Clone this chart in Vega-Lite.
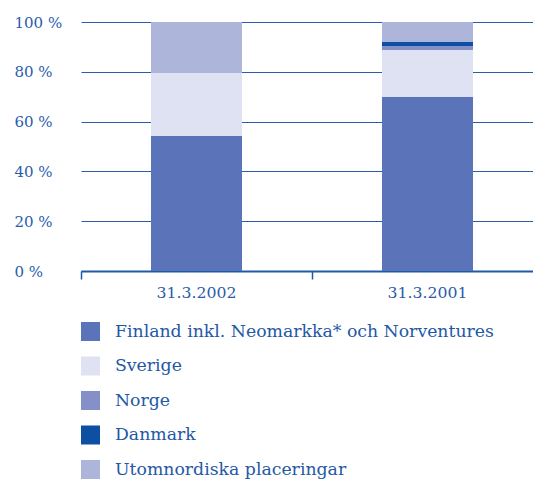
{
  "$schema": "https://vega.github.io/schema/vega-lite/v6.json",
  "width": 452,
  "height": 249,
  "autosize": "none",
  "padding": {"left": 81, "top": 22, "right": 0, "bottom": 208},
  "background": "white",
  "data": {
    "values": [
      {"datum": "31.3.2002", "region": "Finland inkl. Neomarkka* och Norventures", "rank": 1, "share": 54.2},
      {"datum": "31.3.2002", "region": "Sverige", "rank": 2, "share": 25.3},
      {"datum": "31.3.2002", "region": "Norge", "rank": 3, "share": 0},
      {"datum": "31.3.2002", "region": "Danmark", "rank": 4, "share": 0},
      {"datum": "31.3.2002", "region": "Utomnordiska placeringar", "rank": 5, "share": 20.5},
      {"datum": "31.3.2001", "region": "Finland inkl. Neomarkka* och Norventures", "rank": 1, "share": 70.0},
      {"datum": "31.3.2001", "region": "Sverige", "rank": 2, "share": 18.8},
      {"datum": "31.3.2001", "region": "Norge", "rank": 3, "share": 1.6},
      {"datum": "31.3.2001", "region": "Danmark", "rank": 4, "share": 1.6},
      {"datum": "31.3.2001", "region": "Utomnordiska placeringar", "rank": 5, "share": 8.0}
    ]
  },
  "config": {
    "view": {"stroke": null},
    "font": "DejaVu Serif"
  },
  "mark": {"type": "bar", "size": 91},
  "encoding": {
    "x": {
      "field": "datum",
      "type": "nominal",
      "sort": ["31.3.2002", "31.3.2001"],
      "scale": {"range": [0, 462], "paddingInner": 0, "paddingOuter": 0},
      "axis": {
        "title": null,
        "labelAngle": 0,
        "bandPosition": 0,
        "labelFont": "DejaVu Serif",
        "labelFontSize": 15.7,
        "labelColor": "#2a5caa",
        "labelPadding": 6,
        "domainColor": "#1f5aa8",
        "domainWidth": 2,
        "tickColor": "#1f5aa8",
        "tickWidth": 1.5,
        "tickSize": 8,
        "grid": false
      }
    },
    "y": {
      "field": "share",
      "type": "quantitative",
      "stack": "zero",
      "scale": {"domain": [0, 100], "nice": false},
      "axis": {
        "title": null,
        "values": [0, 20, 40, 60, 80, 100],
        "labelExpr": "datum.value + ' %'",
        "labelAlign": "left",
        "labelPadding": 67,
        "ticks": false,
        "tickSize": 0,
        "domain": false,
        "labelFont": "DejaVu Serif",
        "labelFontSize": 15,
        "labelColor": "#2a5caa",
        "gridColor": "#2a5caa",
        "gridWidth": 1,
        "gridOpacity": 1
      }
    },
    "color": {
      "field": "region",
      "type": "nominal",
      "scale": {
        "domain": ["Finland inkl. Neomarkka* och Norventures", "Sverige", "Norge", "Danmark", "Utomnordiska placeringar"],
        "range": ["#5b73b8", "#dfe2f2", "#8690c8", "#0c4fa3", "#aeb5db"]
      },
      "legend": {
        "title": null,
        "orient": "none",
        "legendX": 0,
        "legendY": 300,
        "padding": 0,
        "symbolType": "square",
        "symbolSize": 361,
        "symbolStrokeWidth": 0,
        "symbolOpacity": 1,
        "labelFont": "DejaVu Serif",
        "labelFontSize": 17.3,
        "labelColor": "#2358a6",
        "labelOffset": 15,
        "labelLimit": 500,
        "rowPadding": 15.5
      }
    },
    "order": {"field": "rank", "type": "quantitative", "sort": "ascending"}
  }
}
